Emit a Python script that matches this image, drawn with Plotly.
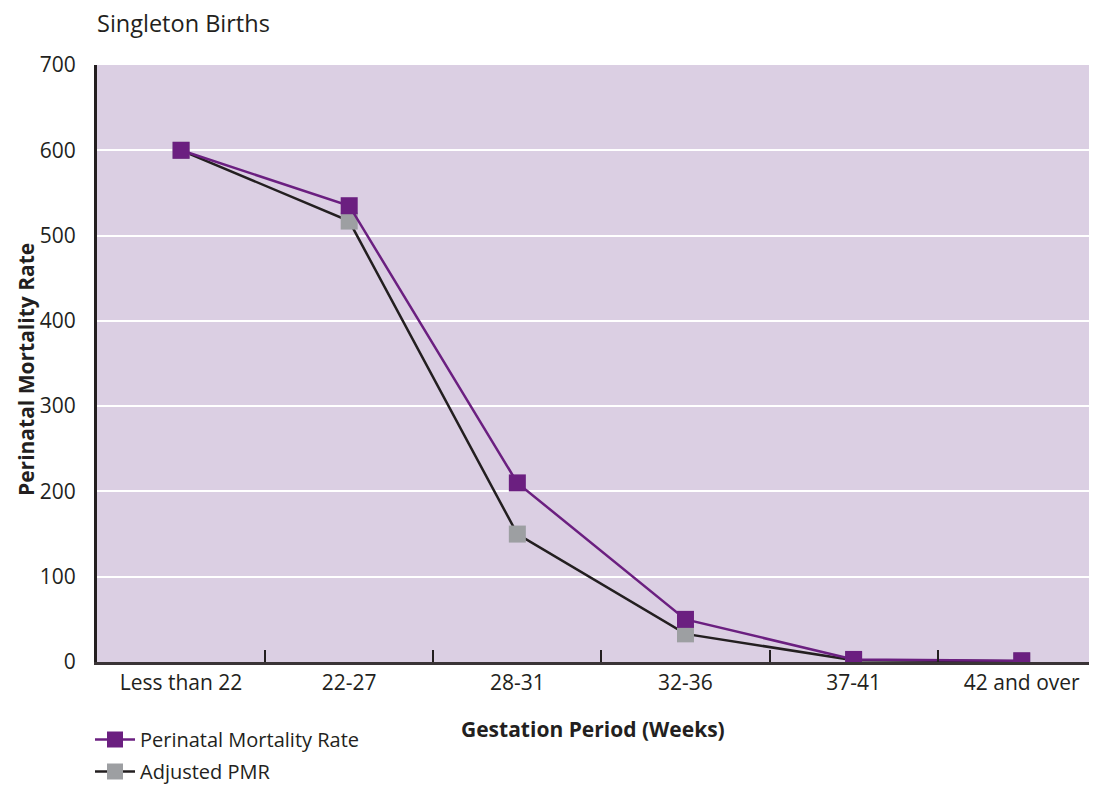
import plotly.graph_objects as go

# podaci ocitani sa slike
gestation = ['Less than 22', '22-27', '28-31', '32-36', '37-41', '42 and over']
pmr = [600, 535, 210, 50, 3, 1.5]
adjusted_pmr = [600, 517, 150, 33, 2, 1]
y_ticks = [0, 100, 200, 300, 400, 500, 600, 700]

PURPLE = '#6B1F80'
GREY = '#9D9FA2'
DARK = '#231F20'
BG = '#DBCFE3'
FONT = 'Open Sans'

# stranica ima 8px margine oko grafika, pa je figura malo manja
W, H = 1081, 777

fig = go.Figure()

# Adjusted ide prvi da bi ljubicasti kvadrati bili preko njega
fig.add_trace(go.Scatter(
    x=gestation, y=adjusted_pmr, name='Adjusted PMR',
    mode='lines+markers', legendgroup='b', legendrank=2,
    line=dict(color=DARK, width=2.5),
    marker=dict(symbol='square', size=17, color=GREY),
))
fig.add_trace(go.Scatter(
    x=gestation, y=pmr, name='Perinatal Mortality Rate',
    mode='lines+markers', legendgroup='a', legendrank=1,
    line=dict(color=PURPLE, width=2.5),
    marker=dict(symbol='square', size=17, color=PURPLE),
))

fig.update_layout(
    width=W, height=H,
    margin=dict(l=89, r=0, t=57, b=123, autoexpand=False),
    paper_bgcolor='white', plot_bgcolor=BG,
    font=dict(family=FONT, size=21, color=DARK),
    title=dict(text='Singleton Births', x=89 / W, xanchor='left',
               xref='container', y=1 - 16 / H, yanchor='middle',
               yref='container', font=dict(size=23.5, color=DARK)),
    legend=dict(x=82 / W, xref='container', xanchor='left',
                y=1 - 712 / H, yref='container', yanchor='top',
                tracegroupgap=3, itemwidth=40, font=dict(size=20),
                bgcolor='rgba(0,0,0,0)'),
    showlegend=True,
)

# naslovi osa kao anotacije
fig.add_annotation(text='<b>Gestation Period (Weeks)</b>', xref='paper', yref='paper',
                   x=0.5, y=-(721 - 654) / (654 - 57), xanchor='center', yanchor='middle',
                   showarrow=False, font=dict(size=21))
fig.add_annotation(text='<b>Perinatal Mortality Rate</b>', xref='paper', yref='paper',
                   x=-(89 - 18) / (W - 89), y=(654 - 362) / (654 - 57), textangle=-90,
                   xanchor='center', yanchor='middle', showarrow=False, font=dict(size=21))

fig.update_xaxes(
    type='category', range=[-0.5, 5.40],
    tickson='boundaries', ticks='inside', ticklen=12, tickwidth=1.5,
    tickcolor=DARK, showgrid=False,
    showline=True, linecolor='#3A3436', linewidth=3,
    tickfont=dict(size=21),
)
fig.update_yaxes(
    range=[0, 700], tickvals=y_ticks, ticks='',
    showgrid=True, gridcolor='white', gridwidth=1.5,
    zeroline=False, showline=True, linecolor=DARK, linewidth=3,
    ticklabelstandoff=14, tickfont=dict(size=21),
)

fig.write_html('out.html')
